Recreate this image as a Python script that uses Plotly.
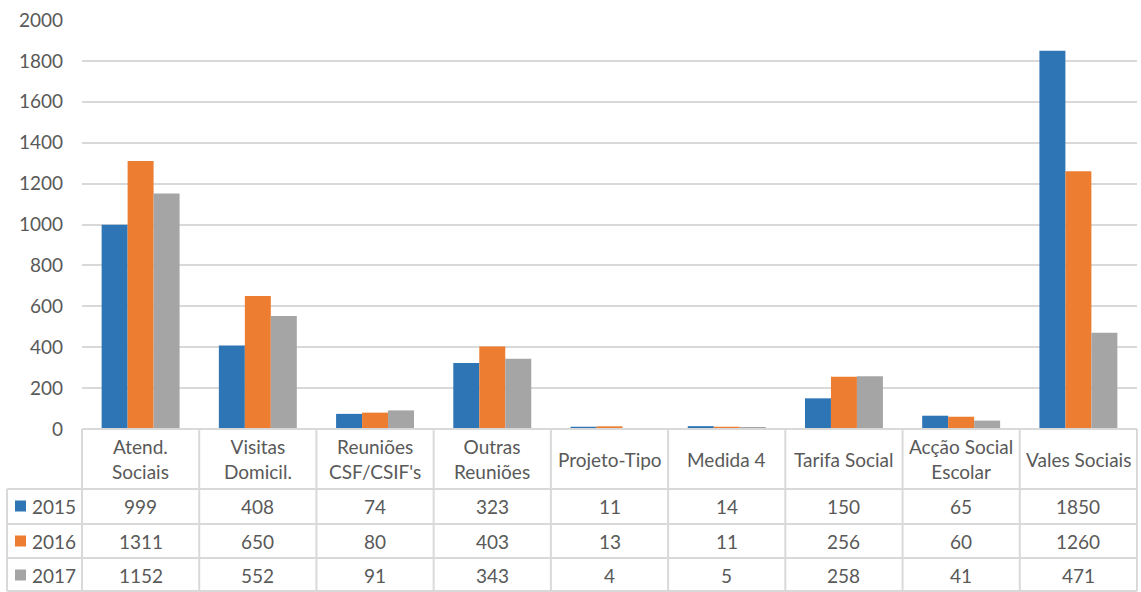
import plotly.graph_objects as go

# Categories and yearly counts
categories = ["Atend.<br>Sociais", "Visitas<br>Domicil.", "Reuniões<br>CSF/CSIF's", "Outras<br>Reuniões",
              "Projeto-Tipo", "Medida 4", "Tarifa Social", "Acção Social<br>Escolar", "Vales Sociais"]
years = ["2015", "2016", "2017"]
v2015 = [999, 408, 74, 323, 11, 14, 150, 65, 1850]
v2016 = [1311, 650, 80, 403, 13, 11, 256, 60, 1260]
v2017 = [1152, 552, 91, 343, 4, 5, 258, 41, 471]
series = [v2015, v2016, v2017]
colors = ["#2E75B6", "#ED7D31", "#A5A5A5"]

W, H = 1141, 592
ML, MR, MT, MB = 82, 4, 20, 163
PW, PH = W - ML - MR, H - MT - MB

FONT = "Lato"
FS = 19
TXT = "#595959"
GRID = "#D9D9D9"


def px_x(px):
    return (px - ML) / PW


def px_y(py):
    return (H - MB - py) / PH


fig = go.Figure()
for name, vals, col in zip(years, series, colors):
    fig.add_trace(go.Bar(x=list(range(len(categories))), y=vals, name=name,
                         marker=dict(color=col, line=dict(width=0))))

shapes = []
annotations = []
n = len(categories)

# table grid: header and data rows
row_lines = [429, 489, 524, 558, 591]
for i, py in enumerate(row_lines):
    x0 = ML if i == 0 else 7
    shapes.append(dict(type="line", xref="paper", yref="paper", x0=px_x(x0), x1=1,
                       y0=px_y(py), y1=px_y(py), line=dict(color=GRID, width=2)))
for k in range(n + 1):
    shapes.append(dict(type="line", xref="paper", yref="paper", x0=k / n, x1=k / n,
                       y0=px_y(429), y1=px_y(591), line=dict(color=GRID, width=2)))
shapes.append(dict(type="line", xref="paper", yref="paper", x0=px_x(7), x1=px_x(7),
                   y0=px_y(489), y1=px_y(591), line=dict(color=GRID, width=2)))

# category headers
for k, c in enumerate(categories):
    annotations.append(dict(xref="paper", yref="paper", x=(k + 0.5) / n, y=px_y(459),
                            text=c, showarrow=False, xanchor="center", yanchor="middle",
                            font=dict(family=FONT, size=FS, color=TXT)))

# data rows with legend keys
row_centers = [506, 541, 575]
for r, (name, vals, col) in enumerate(zip(years, series, colors)):
    cy = row_centers[r]
    shapes.append(dict(type="rect", xref="paper", yref="paper", x0=px_x(15), x1=px_x(26),
                       y0=px_y(cy - 5.5), y1=px_y(cy + 5.5), fillcolor=col, line=dict(width=0)))
    annotations.append(dict(xref="paper", yref="paper", x=px_x(30), y=px_y(cy), text=name,
                            showarrow=False, xanchor="left", yanchor="middle",
                            font=dict(family=FONT, size=FS, color=TXT)))
    for k, v in enumerate(vals):
        annotations.append(dict(xref="paper", yref="paper", x=(k + 0.5) / n, y=px_y(cy),
                                text=str(v), showarrow=False, xanchor="center", yanchor="middle",
                                font=dict(family=FONT, size=FS, color=TXT)))

fig.update_layout(
    width=W, height=H,
    margin=dict(l=ML, r=MR, t=MT, b=MB),
    paper_bgcolor="white", plot_bgcolor="white",
    barmode="group", bargap=0.335, bargroupgap=0,
    showlegend=False,
    xaxis=dict(range=[-0.5, n - 0.5], showticklabels=False, showgrid=False,
               zeroline=False, showline=False, ticks=""),
    yaxis=dict(range=[0, 2000], dtick=200, showgrid=True, gridcolor=GRID, gridwidth=1.5,
               zeroline=False, showline=False, ticks="", ticklabelstandoff=18,
               tickfont=dict(family=FONT, size=FS, color=TXT)),
    shapes=shapes, annotations=annotations,
)

fig.write_html("out.html")
